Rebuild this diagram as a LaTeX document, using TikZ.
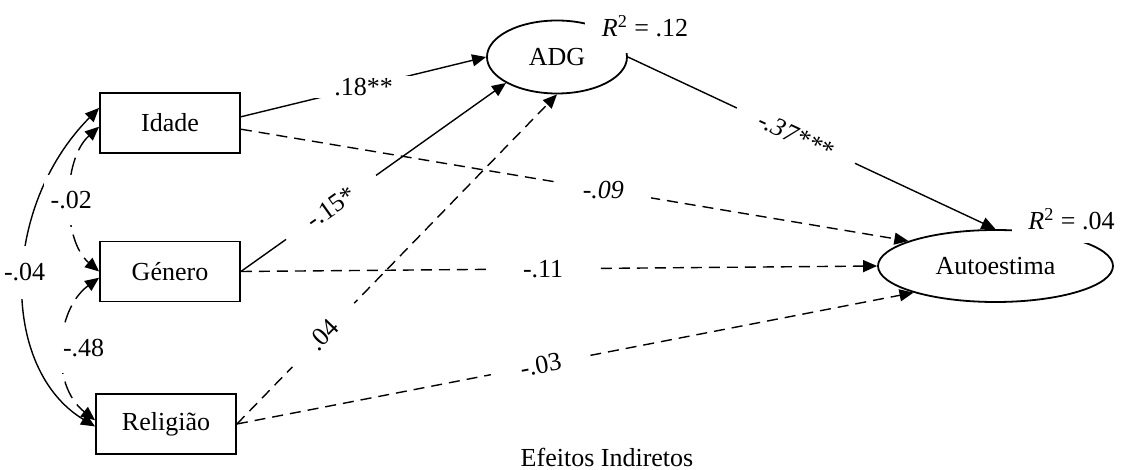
\documentclass[tikz,border=0pt]{standalone}
\usepackage{fontspec}
\setmainfont{Liberation Serif}
\usetikzlibrary{arrows.meta,shapes.geometric}
\begin{document}
\begin{tikzpicture}[x=0.5pt,y=-0.5pt,
  every node/.style={font=\fontsize{13}{15}\selectfont},
  box/.style={draw, line width=0.9pt, minimum width=70pt, minimum height=30pt, inner sep=0pt},
  oval/.style={draw, ellipse, line width=0.9pt, inner sep=0pt},
  conn/.style={line width=0.7pt, -{Triangle[length=7pt,width=6pt]}},
  dconn/.style={conn, dash pattern=on 5.5pt off 3.5pt},
  corr/.style={line width=0.7pt, {Triangle[length=7pt,width=6pt]}-{Triangle[length=7pt,width=6pt]}},
  cdash/.style={dash pattern=on 9pt off 4pt},
  lbl/.style={fill=white, inner ysep=1pt},
  rsq/.style={fill=white, inner sep=0pt}
]
\useasboundingbox (0,0) rectangle (1131,470);

% variables
\node[box] (idade) at (170,123) {Idade};
\node[box] (genero) at (170,271.5) {Género};
\node[box] (religiao) at (166,424) {Religião};
\node[oval, minimum width=70pt, minimum height=36.5pt] (adg) at (557,57) {ADG};
\node[oval, minimum width=117.5pt, minimum height=36pt] (auto) at (995.5,266) {Autoestima};

% R squared labels
\node[rsq, minimum width=60pt, minimum height=26.5pt] (r1) at (645,26.5) {\textit{R}\textsuperscript{2} = .12};
\node[rsq, minimum width=59.5pt, minimum height=24pt] (r2) at (1071.5,219) {\textit{R}\textsuperscript{2} = .04};

% paths
\draw[conn] (idade.5) -- node[lbl, inner xsep=13pt, pos=0.5] {.18**} (adg.west);
\draw[dconn] (idade.-5) -- node[lbl, inner xsep=13.5pt, pos=0.543] {\textit{-.09}} (auto.164);
\draw[conn] (genero.east) -- node[lbl, sloped, inner xsep=14pt, pos=0.34] {-.15*} (adg.207);
\draw[dconn] (genero.east) -- node[lbl, inner xsep=18.5pt, pos=0.475] {-.11} (auto.west);
\draw[dconn] (religiao.east) -- node[lbl, sloped, inner xsep=14pt, pos=0.27] {.04} (adg.south);
\draw[dconn] (religiao.east) -- node[lbl, sloped, inner xsep=15pt, pos=0.449] {-.03} (auto.198);
\draw[conn] (adg.east) -- node[lbl, sloped, inner xsep=12.5pt, pos=0.457] {\textit{-.37***}} (auto.north);

% correlations
\draw[corr] (idade.168) .. controls (0,208) and (0,369) .. node[lbl, pos=0.47, inner ysep=9pt, inner xsep=1pt] {-.04} (religiao.182);
\draw[corr, cdash] (idade.183) .. controls (62,160) and (62,240) .. node[lbl, pos=0.5, inner ysep=8pt] {-.02} (genero.west);
\draw[corr, cdash] (genero.185) .. controls (55,310) and (50,385) .. node[lbl, pos=0.5, xshift=10pt, inner ysep=8pt, inner xsep=3pt] {-.48} (religiao.177);

\node (efeitos) at (607,457) {Efeitos Indiretos};
\end{tikzpicture}
\end{document}
